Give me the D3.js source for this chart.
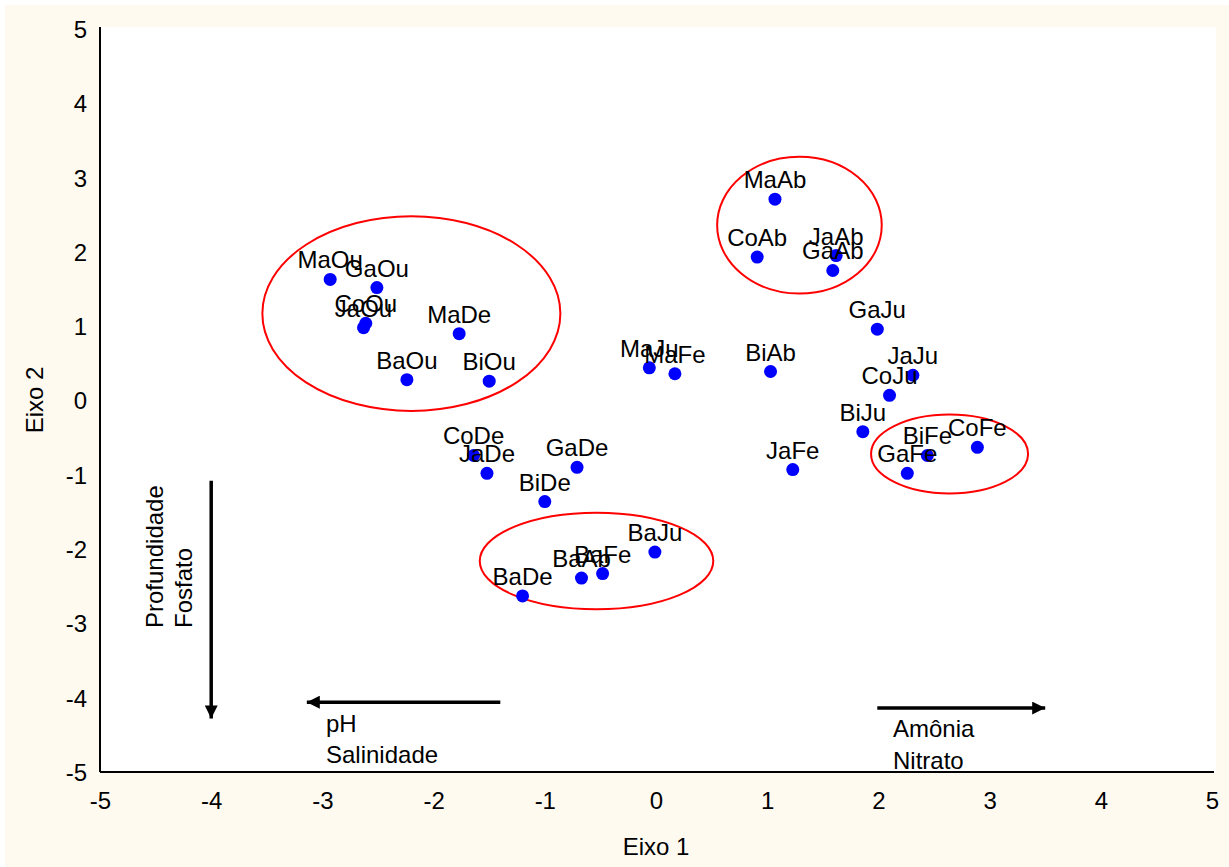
<!DOCTYPE html>
<html><head><meta charset="utf-8">
<script src="https://cdn.jsdelivr.net/npm/d3@7"></script>
<style>html,body{margin:0;padding:0;background:#fff;}svg{display:block;}</style>
</head><body>
<svg id="c" width="1229" height="867"></svg>
<script>
const names = ["MaOu","GaOu","CoOu","JaOu","MaDe","BaOu","BiOu","MaAb","CoAb","JaAb","GaAb","GaJu","MaJu","MaFe","BiAb","JaJu","CoJu","BiJu","JaFe","BiFe","GaFe","CoFe","CoDe","JaDe","GaDe","BiDe","BaJu","BaAb","BaFe","BaDe"];
const eixo1 = [-2.93,-2.51,-2.61,-2.63,-1.77,-2.24,-1.50,1.07,0.91,1.62,1.59,1.99,-0.06,0.17,1.03,2.31,2.10,1.86,1.23,2.44,2.26,2.89,-1.64,-1.52,-0.71,-1.00,-0.01,-0.67,-0.48,-1.20];
const eixo2 = [1.63,1.52,1.04,0.98,0.90,0.28,0.26,2.71,1.93,1.95,1.75,0.96,0.44,0.36,0.39,0.34,0.07,-0.42,-0.93,-0.74,-0.98,-0.63,-0.74,-0.98,-0.90,-1.36,-2.04,-2.39,-2.33,-2.63];
const xTicks = [-5,-4,-3,-2,-1,0,1,2,3,4,5];
const yTicks = [-5,-4,-3,-2,-1,0,1,2,3,4,5];
// group ellipses: center x, center y, radius x, radius y (data units)
const ellCx = [-2.20, 1.29, -0.535, 2.64];
const ellCy = [1.17, 2.36, -2.16, -0.72];
const ellRx = [1.34, 0.74, 1.05, 0.706];
const ellRy = [1.31, 0.92, 0.65, 0.53];
// arrows: from (x1,y1) to (x2,y2) data units
const arrX1 = [-4, -1.40, 1.99];
const arrY1 = [-1.08, -4.06, -4.14];
const arrX2 = [-4, -3.14, 3.50];
const arrY2 = [-4.28, -4.06, -4.14];
const arrowLabels = [["Profundidade","Fosfato"],["pH","Salinidade"],["Amônia","Nitrato"]];

const svg = d3.select("#c");
const font = "'Liberation Sans', Arial, sans-serif";
const x = d3.scaleLinear().domain([-5,5]).range([100,1212]);
const y = d3.scaleLinear().domain([-5,5]).range([772,29]);

svg.append("rect").attr("x",5).attr("y",5).attr("width",1224).attr("height",862).attr("fill","#FFFAF0");
svg.append("rect").attr("x",100).attr("y",27).attr("width",1116).attr("height",745).attr("fill","#fff");

// axes (no tick marks)
const fmt = d => String(d);
const xa = svg.append("g").attr("transform","translate(0,772)")
  .call(d3.axisBottom(x).tickValues(xTicks).tickSize(0).tickPadding(20).tickFormat(fmt));
const ya = svg.append("g").attr("transform","translate(100,0)")
  .call(d3.axisLeft(y).tickValues(yTicks).tickSize(0).tickPadding(13).tickFormat(fmt));
[xa,ya].forEach(g=>{
  g.select(".domain").attr("stroke","#000").attr("stroke-width",2);
  g.selectAll("text").attr("font-family",font).attr("font-size",24).attr("fill","#000");
});
ya.select(".domain").attr("d","M0,772V27");
xa.select(".domain").attr("d","M100,0H1214");
ya.selectAll("text").attr("dy","0.35em");
xa.selectAll("text").attr("dy","0.71em");

svg.append("text").attr("x",656).attr("y",855).attr("text-anchor","middle")
  .attr("font-family",font).attr("font-size",24).text("Eixo 1");
svg.append("text").attr("transform","translate(43,400) rotate(-90)").attr("text-anchor","middle")
  .attr("font-family",font).attr("font-size",24).text("Eixo 2");

// ellipses
svg.append("g").selectAll("ellipse").data(ellCx).join("ellipse")
  .attr("cx",(d)=>x(d)).attr("cy",(d,i)=>y(ellCy[i]))
  .attr("rx",(d,i)=>x(ellRx[i])-x(0)).attr("ry",(d,i)=>y(0)-y(ellRy[i]))
  .attr("fill","none").attr("stroke","#FF0000").attr("stroke-width",2);

// arrows
const defs = svg.append("defs");
defs.append("marker").attr("id","ah").attr("viewBox","0 0 10 10").attr("refX",10).attr("refY",5)
  .attr("markerUnits","userSpaceOnUse").attr("markerWidth",19).attr("markerHeight",13).attr("orient","auto")
  .append("path").attr("d","M0,0L10,5L0,10Z").attr("fill","#000");
svg.append("g").selectAll("line").data(arrX1).join("line")
  .attr("x1",d=>x(d)).attr("y1",(d,i)=>y(arrY1[i]))
  .attr("x2",(d,i)=>x(arrX2[i])).attr("y2",(d,i)=>y(arrY2[i]))
  .attr("stroke","#000").attr("stroke-width",3.5).attr("marker-end","url(#ah)");

// arrow labels
const lab = svg.append("g").attr("font-family",font).attr("font-size",24).attr("fill","#000");
lab.append("text").attr("transform","translate(163,628) rotate(-90)").text(arrowLabels[0][0]);
lab.append("text").attr("transform","translate(192,628) rotate(-90)").text(arrowLabels[0][1]);
lab.append("text").attr("x",326).attr("y",732).text(arrowLabels[1][0]);
lab.append("text").attr("x",326).attr("y",763).text(arrowLabels[1][1]);
lab.append("text").attr("x",893).attr("y",737).text(arrowLabels[2][0]);
lab.append("text").attr("x",893).attr("y",769).text(arrowLabels[2][1]);

// points
svg.append("g").selectAll("circle").data(names).join("circle")
  .attr("cx",(d,i)=>x(eixo1[i])).attr("cy",(d,i)=>y(eixo2[i])).attr("r",6.5).attr("fill","#0000FF");
svg.append("g").selectAll("text").data(names).join("text")
  .attr("x",(d,i)=>x(eixo1[i])).attr("y",(d,i)=>y(eixo2[i])-11).attr("text-anchor","middle")
  .attr("font-family",font).attr("font-size",24).attr("fill","#000").text(d=>d);
</script>
</body></html>
